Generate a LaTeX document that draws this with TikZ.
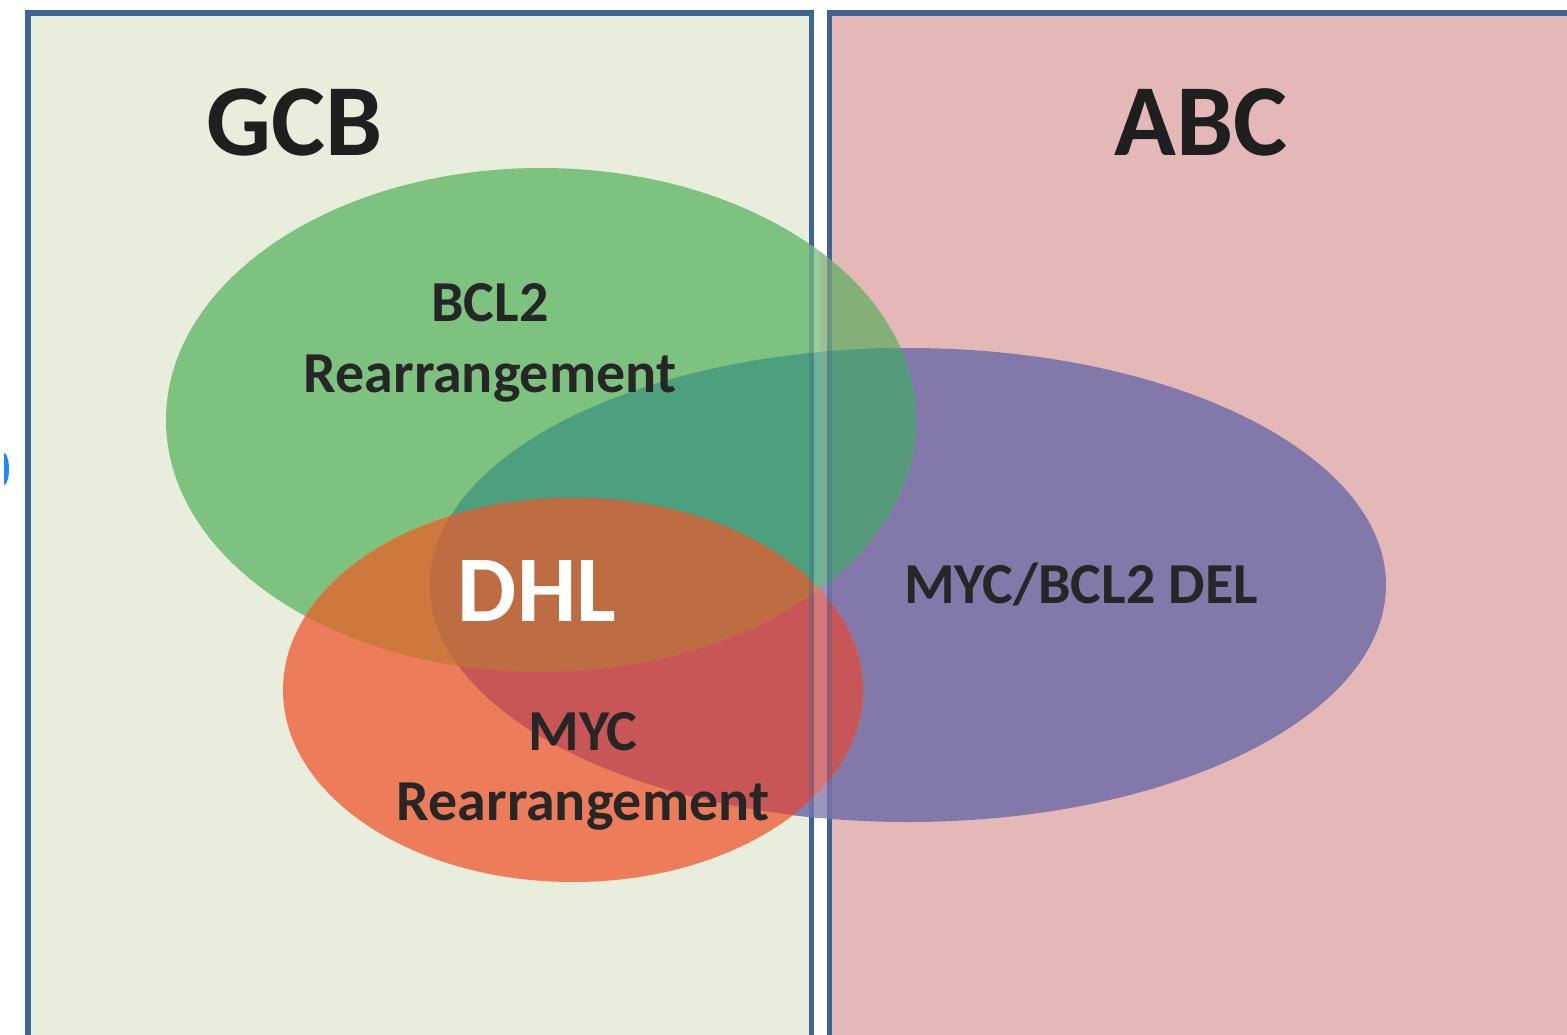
\documentclass[tikz,border=0pt]{standalone}
\usepackage{fontspec}
\setmainfont{Carlito}
\begin{document}
\begin{tikzpicture}[x=1pt,y=-1pt,
  lbl/.style={anchor=base,inner sep=0pt,text=black!85,font=\bfseries\fontsize{58}{70}\selectfont},
  big/.style={anchor=base,inner sep=0pt,text=black!88,font=\bfseries\fontsize{102}{120}\selectfont},
  boxline/.style={draw=bordblue,line width=5.5pt}]
\definecolor{bordblue}{RGB}{62,100,150}
\definecolor{leftbg}{RGB}{233,237,219}
\definecolor{rightbg}{RGB}{229,184,184}
\definecolor{gL}{RGB}{125,194,127}
\definecolor{gR}{RGB}{130,176,119}
\definecolor{pP}{RGB}{131,120,170}
\definecolor{pL}{RGB}{125,128,182}
\definecolor{oO}{RGB}{237,125,90}
\definecolor{gpL}{RGB}{76,160,125}
\definecolor{gpR}{RGB}{85,154,122}
\definecolor{go}{RGB}{205,120,61}
\definecolor{op}{RGB}{200,86,86}
\definecolor{gop}{RGB}{190,109,66}
\definecolor{markblue}{RGB}{30,136,255}
\def\G{(541,420) ellipse [x radius=375, y radius=252]}
\def\P{(908,585) ellipse [x radius=478, y radius=237]}
\def\O{(573,690) ellipse [x radius=290, y radius=192]}
\useasboundingbox (0,0) rectangle (1567,1034);
\clip (0,0) rectangle (1567,1034);
\fill[white] (0,0) rectangle (1567,1034);
% boxes
\filldraw[boxline,fill=leftbg] (28,13) rectangle (811.5,1050);
\filldraw[boxline,fill=rightbg] (829.5,13) rectangle (1590,1050);
% stray mark
\begin{scope}
\clip (4,440) rectangle (20,500);
\fill[markblue] (4,469) ellipse [x radius=5, y radius=16];
\end{scope}
% ellipses, region by region
\fill[pP] \P;
\begin{scope}\clip (0,0) rectangle (820,1034); \fill[pL] \P; \end{scope}
\fill[gL] \G;
\begin{scope}\clip (820,0) rectangle (1567,1034); \fill[gR] \G; \end{scope}
\fill[oO] \O;
\begin{scope}\clip \G; \fill[gpL] \P; \end{scope}
\begin{scope}\clip \G; \clip (820,0) rectangle (1567,1034); \fill[gpR] \P; \end{scope}
\begin{scope}\clip \G; \fill[go] \O; \end{scope}
\begin{scope}\clip \O; \fill[op] \P; \end{scope}
\begin{scope}\clip \G; \clip \O; \fill[gop] \P; \end{scope}
% borders and gap showing through
\fill[white,opacity=0.2] (814,13) rectangle (827,1050);
\draw[boxline,opacity=0.35] (811.5,13) -- (811.5,1050);
\draw[boxline,opacity=0.35] (829.5,13) -- (829.5,1050);
% labels
\node[big] (gcb) at (295,155) {GCB};
\node[big] (abc) at (1201,155) {ABC};
\node[lbl] (bcl2) at (490,321) {BCL2};
\node[lbl] (bcl2r) at (490,392) {Rearrangement};
\node[anchor=base,inner sep=0pt,text=white,font=\bfseries\fontsize{94}{110}\selectfont] (dhl) at (537,621) {DHL};
\node[lbl] (myc) at (583,750) {MYC};
\node[lbl] (mycr) at (583,820) {Rearrangement};
\node[lbl] (del) at (1081,603) {MYC/BCL2 DEL};
\end{tikzpicture}
\end{document}
